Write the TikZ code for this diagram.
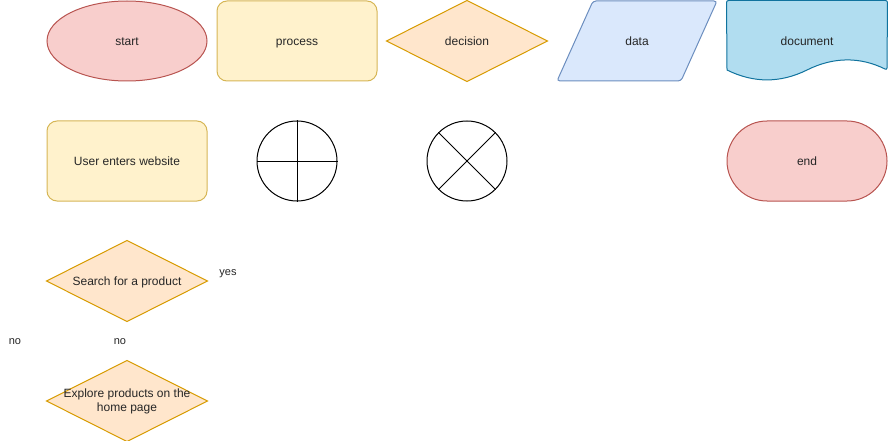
\documentclass[tikz,border=0pt]{standalone}
\usepackage{fontspec}
\setmainfont{Liberation Sans}
\usepackage{xcolor}
\usetikzlibrary{shapes.geometric, arrows.meta, positioning, calc}

\definecolor{redfill}{HTML}{F8CECC}
\definecolor{reddraw}{HTML}{B85450}
\definecolor{yellowfill}{HTML}{FFF2CC}
\definecolor{yellowdraw}{HTML}{D6B656}
\definecolor{orangefill}{HTML}{FFE6CC}
\definecolor{orangedraw}{HTML}{D79B00}
\definecolor{bluefill}{HTML}{DAE8FC}
\definecolor{bluedraw}{HTML}{6C8EBF}
\definecolor{docfill}{HTML}{B1DDF0}
\definecolor{docdraw}{HTML}{10739E}

\begin{document}
\begin{tikzpicture}[x=1pt, y=-1pt,
  every node/.style={font=\fontsize{12}{14}\selectfont, text=black!85},
  txt/.style={text height=9.5pt, text depth=0.5pt},
  box/.style={rectangle, txt, minimum width=160pt, minimum height=80pt, inner sep=0pt, line width=1pt},
  label/.style={txt, font=\fontsize{11}{13}\selectfont, inner sep=0pt}]
\useasboundingbox (0,0) rectangle (888,441);

% Top row: the flowchart symbols
\node[ellipse, txt, draw=reddraw, fill=redfill, line width=1pt, minimum width=160pt, minimum height=80pt] (start) at (127,41) {start};
\node[box, draw=yellowdraw, fill=yellowfill, rounded corners=10pt] (process) at (297,41) {process};
\node[box] (decision) at (467,41) {};
\filldraw[draw=orangedraw, fill=orangefill, line width=1pt] (decision.north) -- (decision.east) -- (decision.south) -- (decision.west) -- cycle;
\node[txt] at (decision.center) {decision};
\node[box] (data) at (637,41) {};
\filldraw[draw=bluedraw, fill=bluefill, line width=1pt, rounded corners=3pt] ($(data.center)+(-44,-40)$) -- ($(data.center)+(80,-40)$) -- ($(data.center)+(44,40)$) -- ($(data.center)+(-80,40)$) -- cycle;
\node[txt] at (data.center) {data};
\node[box] (doc) at (807,41) {};
\filldraw[draw=docdraw, fill=docfill, line width=1pt, rounded corners=2pt] (doc.north west) -- (doc.north east) -- ($(doc.center)+(80,29)$) [sharp corners]
  .. controls ($(doc.center)+(53.3,15.7)$) and ($(doc.center)+(26.7,15.7)$) .. ($(doc.center)+(0,29)$)
  .. controls ($(doc.center)+(-26.7,42.2)$) and ($(doc.center)+(-53.3,42.2)$) .. ($(doc.center)+(-80,29)$) [rounded corners=2pt] -- cycle;
\node[txt] at (doc.center) {document};

% Second row
\node[box, draw=yellowdraw, fill=yellowfill, rounded corners=10pt] (website) at (127,161) {User enters website};
\node[circle, draw=black, line width=1pt, minimum size=80pt, inner sep=0pt] (junction) at (297,161) {};
\draw[line width=1pt] (junction.north) -- (junction.south);
\draw[line width=1pt] (junction.west) -- (junction.east);
\node[circle, draw=black, line width=1pt, minimum size=80pt, inner sep=0pt] (sumjunction) at (467,161) {};
\draw[line width=1pt] (sumjunction.north west) -- (sumjunction.south east);
\draw[line width=1pt] (sumjunction.north east) -- (sumjunction.south west);
\node[box, draw=reddraw, fill=redfill, rounded corners=40pt] (end) at (807,161) {end};

% Third row: decisions and loose labels
\node[box] (search) at (127,281) {};
\filldraw[draw=orangedraw, fill=orangefill, line width=1pt] (search.north) -- (search.east) -- (search.south) -- (search.west) -- cycle;
\node[txt] at (search.center) {Search for a product};
\node[label] (yes) at (228,271) {yes};
\node[label] (noleft) at (15,340) {no};
\node[label] (nomid) at (120,340) {no};
\node[box] (explore) at (127,401) {};
\filldraw[draw=orangedraw, fill=orangefill, line width=1pt] (explore.north) -- (explore.east) -- (explore.south) -- (explore.west) -- cycle;
\node[align=center] at (explore.center) {Explore products on the\\home page};
\end{tikzpicture}
\end{document}
